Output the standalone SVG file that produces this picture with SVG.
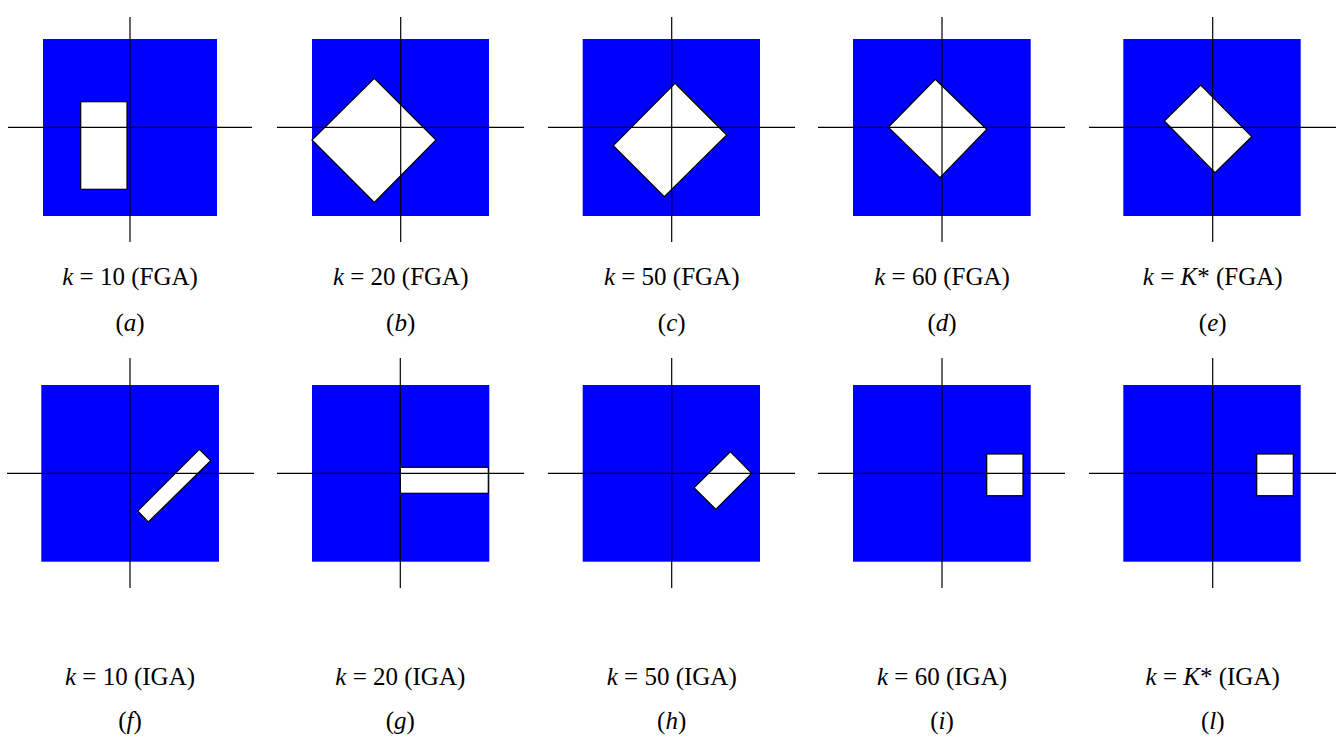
<svg xmlns="http://www.w3.org/2000/svg" width="1343" height="742" viewBox="0 0 1343 742">
<style>
.bg{fill:#0000ff}
.ax{stroke:#000;stroke-width:1.2;fill:none}
.sh{fill:#fff;stroke:#000;stroke-width:1.2;stroke-linejoin:miter}
.lb{font-family:'Liberation Serif',serif;font-size:25px;fill:#000;text-anchor:middle}
.it{font-style:italic}
</style>
<rect width="1343" height="742" fill="#fff"/>
<g id="panel-a">
<rect class="bg" x="43" y="39" width="174" height="177"/>
<rect class="sh" x="80.7" y="101.7" width="46.3" height="87.6"/>
<line class="ax" x1="8" y1="127.3" x2="252" y2="127.3"/>
<line class="ax" x1="130" y1="17" x2="130" y2="242"/>
<text class="lb" font-family="Liberation Serif" x="130" y="285"><tspan class="it">k</tspan> = 10 (FGA)</text>
<text class="lb" font-family="Liberation Serif" x="130" y="331">(<tspan class="it">a</tspan>)</text>
</g>
<g id="panel-b">
<rect class="bg" x="312" y="39" width="177" height="177"/>
<polygon class="sh" points="374.3,78.3 436,140 374.3,202.3 312,140"/>
<line class="ax" x1="277" y1="127.3" x2="524" y2="127.3"/>
<line class="ax" x1="400.7" y1="17" x2="400.7" y2="242"/>
<text class="lb" font-family="Liberation Serif" x="400.7" y="285"><tspan class="it">k</tspan> = 20 (FGA)</text>
<text class="lb" font-family="Liberation Serif" x="400.7" y="331">(<tspan class="it">b</tspan>)</text>
</g>
<g id="panel-c">
<rect class="bg" x="582.7" y="39" width="177.3" height="177"/>
<polygon class="sh" points="675,83.3 726.7,135 664.3,196.7 613.3,145.7"/>
<line class="ax" x1="548" y1="127.3" x2="795" y2="127.3"/>
<line class="ax" x1="671.7" y1="17" x2="671.7" y2="242"/>
<text class="lb" font-family="Liberation Serif" x="671.7" y="285"><tspan class="it">k</tspan> = 50 (FGA)</text>
<text class="lb" font-family="Liberation Serif" x="671.7" y="331">(<tspan class="it">c</tspan>)</text>
</g>
<g id="panel-d">
<rect class="bg" x="853" y="39" width="177.7" height="177"/>
<polygon class="sh" points="935.3,79.3 986.7,129.3 940,177.7 888.3,127.3"/>
<line class="ax" x1="818" y1="127.3" x2="1065" y2="127.3"/>
<line class="ax" x1="942" y1="17" x2="942" y2="242"/>
<text class="lb" font-family="Liberation Serif" x="942" y="285"><tspan class="it">k</tspan> = 60 (FGA)</text>
<text class="lb" font-family="Liberation Serif" x="942" y="331">(<tspan class="it">d</tspan>)</text>
</g>
<g id="panel-e">
<rect class="bg" x="1123.3" y="39" width="177.4" height="177"/>
<polygon class="sh" points="1200.7,85 1251.7,136.7 1215,172.7 1164.3,121"/>
<line class="ax" x1="1089" y1="127.3" x2="1336" y2="127.3"/>
<line class="ax" x1="1212.7" y1="17" x2="1212.7" y2="242"/>
<text class="lb" font-family="Liberation Serif" x="1212.7" y="285"><tspan class="it">k</tspan> = <tspan class="it">K</tspan>* (FGA)</text>
<text class="lb" font-family="Liberation Serif" x="1212.7" y="331">(<tspan class="it">e</tspan>)</text>
</g>
<g id="panel-f">
<rect class="bg" x="41.3" y="385" width="177.7" height="176.7"/>
<polygon class="sh" points="199.3,449.3 210.7,460.7 148.3,522 137.7,511"/>
<line class="ax" x1="7" y1="473.3" x2="254" y2="473.3"/>
<line class="ax" x1="130" y1="358" x2="130" y2="588"/>
<text class="lb" font-family="Liberation Serif" x="130" y="685"><tspan class="it">k</tspan> = 10 (IGA)</text>
<text class="lb" font-family="Liberation Serif" x="130" y="729">(<tspan class="it">f</tspan>)</text>
</g>
<g id="panel-g">
<rect class="bg" x="312" y="385" width="177.3" height="176.7"/>
<rect class="sh" x="400.3" y="467.3" width="88" height="26"/>
<line class="ax" x1="277" y1="473.3" x2="524" y2="473.3"/>
<line class="ax" x1="400.3" y1="358" x2="400.3" y2="588"/>
<text class="lb" font-family="Liberation Serif" x="400.3" y="685"><tspan class="it">k</tspan> = 20 (IGA)</text>
<text class="lb" font-family="Liberation Serif" x="400.3" y="729">(<tspan class="it">g</tspan>)</text>
</g>
<g id="panel-h">
<rect class="bg" x="582.7" y="385" width="177.3" height="176.7"/>
<polygon class="sh" points="730.3,451.7 751.7,473.3 715.7,509.3 694,487.7"/>
<line class="ax" x1="548" y1="473.3" x2="795" y2="473.3"/>
<line class="ax" x1="671.7" y1="358" x2="671.7" y2="588"/>
<text class="lb" font-family="Liberation Serif" x="671.7" y="685"><tspan class="it">k</tspan> = 50 (IGA)</text>
<text class="lb" font-family="Liberation Serif" x="671.7" y="729">(<tspan class="it">h</tspan>)</text>
</g>
<g id="panel-i">
<rect class="bg" x="853" y="385" width="177.7" height="176.7"/>
<rect class="sh" x="986.7" y="454" width="36.3" height="41.7"/>
<line class="ax" x1="818" y1="473.3" x2="1065" y2="473.3"/>
<line class="ax" x1="942" y1="358" x2="942" y2="588"/>
<text class="lb" font-family="Liberation Serif" x="942" y="685"><tspan class="it">k</tspan> = 60 (IGA)</text>
<text class="lb" font-family="Liberation Serif" x="942" y="729">(<tspan class="it">i</tspan>)</text>
</g>
<g id="panel-l">
<rect class="bg" x="1123.3" y="385" width="177.4" height="176.7"/>
<rect class="sh" x="1256.7" y="454" width="36.6" height="41.7"/>
<line class="ax" x1="1089" y1="473.3" x2="1336" y2="473.3"/>
<line class="ax" x1="1212.7" y1="358" x2="1212.7" y2="588"/>
<text class="lb" font-family="Liberation Serif" x="1212.7" y="685"><tspan class="it">k</tspan> = <tspan class="it">K</tspan>* (IGA)</text>
<text class="lb" font-family="Liberation Serif" x="1212.7" y="729">(<tspan class="it">l</tspan>)</text>
</g>
<g id="connectors"></g>
</svg>
